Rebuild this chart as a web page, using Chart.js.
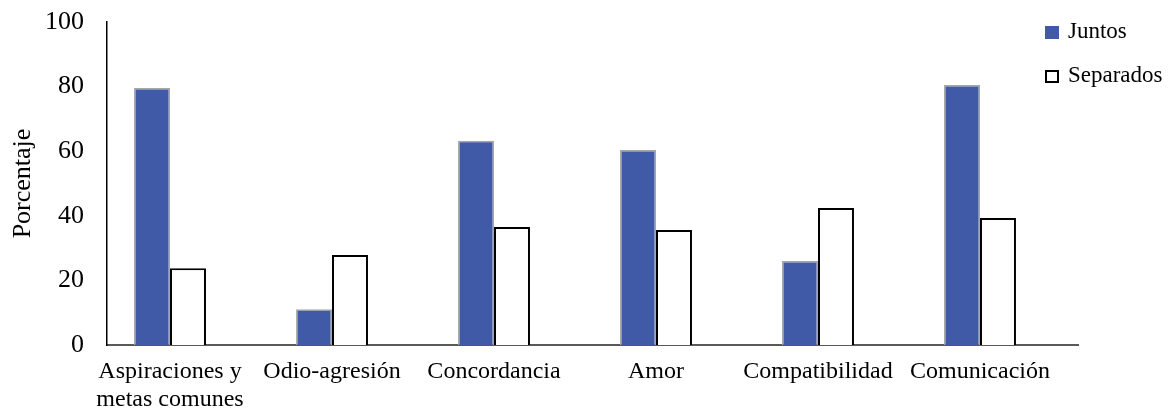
<!DOCTYPE html>
<html>
<head>
<meta charset="utf-8">
<script src="https://cdn.jsdelivr.net/npm/chart.js@4.4.1/dist/chart.umd.min.js"></script>
<style>
  body { margin: 0; background: #fff; }
  #wrap { position: relative; width: 1170px; height: 412px; font-family: "Liberation Serif", "Times New Roman", serif; }
  .leg { position: absolute; left: 1045px; font-size: 23px; color: #000; white-space: nowrap; line-height: 23px; }
  .leg i { display: inline-block; width: 14px; height: 13px; margin-right: 9px; vertical-align: -1px; box-sizing: border-box; }
</style>
</head>
<body>
<div id="wrap">
  <canvas id="barChart"></canvas>
  <div class="leg" style="top:19px"><i style="background:#405aa8"></i>Juntos</div>
  <div class="leg" style="top:63px"><i style="background:#fff;border:2px solid #000"></i>Separados</div>
</div>
<script>
// categories and values
const categories = [["Aspiraciones y", "metas comunes"], "Odio-agresión", "Concordancia", "Amor", "Compatibilidad", "Comunicación"];
const juntos = [79.6, 11.1, 63.2, 60.4, 26, 80.5];
const separados = [23.8, 27.9, 36.5, 35.6, 42.4, 39.3];
const yTicks = [0, 20, 40, 60, 80, 100];

let toPoints = (values) => values.map(function (v, i) { return { x: i, y: v }; });

const font = { family: "'Liberation Serif', 'Times New Roman', serif", size: 24 };

var ctx = document.getElementById("barChart").getContext('2d');
var myBarChart = new Chart(ctx, {
    type: 'bar',
    data: {
        datasets: [{
            label: "Juntos",
            data: toPoints(juntos),
            backgroundColor: "#405aa8",
            borderColor: "#a6a6a6",
            borderWidth: 1.5,
            categoryPercentage: 0.444,
            barPercentage: 1
        }, {
            label: "Separados",
            data: toPoints(separados),
            backgroundColor: "#ffffff",
            borderColor: "#000000",
            borderWidth: 2,
            categoryPercentage: 0.444,
            barPercentage: 1
        }]
    },
    options: {
        responsive: true,
        maintainAspectRatio: false,
        animation: false,
        layout: { padding: { top: 22, right: 92, left: 0, bottom: 0 } },
        plugins: { legend: { display: false }, tooltip: { enabled: false } },
        scales: {
            x: {
                type: 'linear',
                offset: false,
                min: -0.389,
                max: 5.605,
                grid: { display: false, drawTicks: false },
                border: { display: true, color: "#595959", width: 2 },
                afterBuildTicks: function (scale) {
                    scale.ticks = categories.map(function (c, i) { return { value: i }; });
                },
                afterFit: function (scale) { scale.height = 67; },
                ticks: {
                    autoSkip: false,
                    maxRotation: 0,
                    padding: 12,
                    color: "#000",
                    font: font,
                    callback: function (value, index) { return categories[index]; }
                }
            },
            y: {
                min: 0,
                max: 100,
                grid: { display: false, drawTicks: false },
                border: { display: true, color: "#000", width: 1.5 },
                afterBuildTicks: function (scale) {
                    scale.ticks = yTicks.map(function (v) { return { value: v }; });
                },
                afterFit: function (scale) {
                    scale.width = 107;
                    scale.paddingTop = 0;
                    scale.paddingBottom = 0;
                },
                ticks: { padding: 23, color: "#000", font: { family: font.family, size: 26 } },
                title: {
                    display: true,
                    text: "Porcentaje",
                    color: "#000",
                    font: { family: font.family, size: 26 },
                    padding: { top: 8, bottom: 0 }
                }
            }
        }
    }
});
</script>
</body>
</html>
